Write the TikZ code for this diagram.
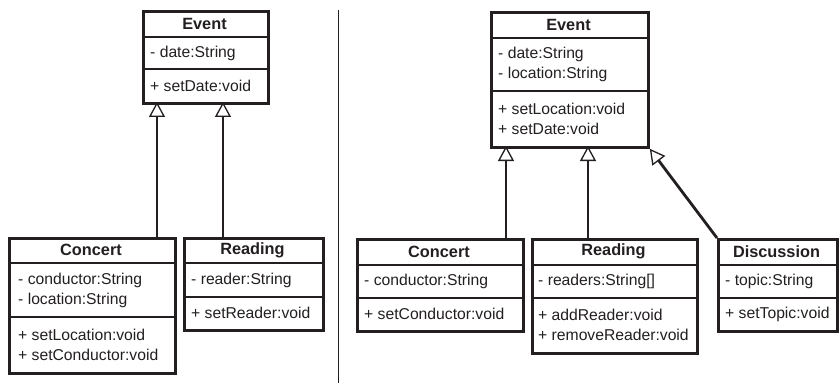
\documentclass[tikz,border=0pt]{standalone}
\usepackage{fontspec}
\setmainfont{Liberation Sans}
\usetikzlibrary{arrows.meta}
\definecolor{ink}{RGB}{35,31,32}
\begin{document}
\begin{tikzpicture}[x=1pt,y=-1pt,
  cls/.style={draw=ink, line width=2.8pt, inner sep=0pt, anchor=north west},
  sepline/.style={draw=ink, line width=2.8pt},
  ttl/.style={inner sep=0pt, text=ink, font=\fontsize{16.3}{19}\selectfont\bfseries},
  mem/.style={inner sep=0pt, anchor=west, align=left, text=ink, font=\fontsize{15.7}{20}\selectfont},
  inh/.style={draw=ink, line width=2.8pt, -{Triangle[open, length=15pt, width=16pt, line width=1.3pt, fill=white]}},
  divider/.style={draw=ink, line width=1pt}
]
\useasboundingbox (0,0) rectangle (840,385);

% ---------------- left diagram ----------------
% Event
\node[cls, minimum width=125pt, minimum height=92pt] (eL) at (142,10) {};
\draw[sepline] (142,37) -- (267,37);
\draw[sepline] (142,69) -- (267,69);
\node[ttl] (eLt) at (204.5,23.5) {Event};
\node[mem] (eLa) at (150,53) {- date:String};
\node[mem] (eLm) at (150,85.5) {+ setDate:void};

% Concert
\node[cls, minimum width=166pt, minimum height=135pt] (cL) at (8,237) {};
\draw[sepline] (8,263) -- (174,263);
\draw[sepline] (8,317) -- (174,317);
\node[ttl] (cLt) at (91,250) {Concert};
\node[mem] (cLa) at (18,290) {- conductor:String\\- location:String};
\node[mem] (cLm) at (18,344.5) {+ setLocation:void\\+ setConductor:void};

% Reading
\node[cls, minimum width=139pt, minimum height=92pt] (rL) at (183,237) {};
\draw[sepline] (183,263) -- (322,263);
\draw[sepline] (183,297) -- (322,297);
\node[ttl] (rLt) at (252.5,250) {Reading};
\node[mem] (rLa) at (191,280) {- reader:String};
\node[mem] (rLm) at (191,313) {+ setReader:void};

\coordinate (cLtop) at (157,237);
\coordinate (eLb1) at (157,102);
\coordinate (rLtop) at (223,237);
\coordinate (eLb2) at (223,102);
\draw[inh] (cLtop) -- (eLb1);
\draw[inh] (rLtop) -- (eLb2);

% divider
\coordinate (dvT) at (338,10);
\coordinate (dvB) at (338,383);
\draw[divider] (dvT) -- (dvB);

% ---------------- right diagram ----------------
% Event
\node[cls, minimum width=157pt, minimum height=135pt] (eR) at (490,11) {};
\draw[sepline] (490,38) -- (647,38);
\draw[sepline] (490,91) -- (647,91);
\node[ttl] (eRt) at (568.5,24.5) {Event};
\node[mem] (eRa) at (498,64.5) {- date:String\\- location:String};
\node[mem] (eRm) at (498,118.5) {+ setLocation:void\\+ setDate:void};

% Concert
\node[cls, minimum width=166pt, minimum height=92pt] (cR) at (356,238) {};
\draw[sepline] (356,265) -- (522,265);
\draw[sepline] (356,298) -- (522,298);
\node[ttl] (cRt) at (439,251.5) {Concert};
\node[mem] (cRa) at (364,281.5) {- conductor:String};
\node[mem] (cRm) at (364,314) {+ setConductor:void};

% Reading
\node[cls, minimum width=165pt, minimum height=114pt] (rR) at (531,238) {};
\draw[sepline] (531,265) -- (696,265);
\draw[sepline] (531,298) -- (696,298);
\node[ttl] (rRt) at (613.5,251.5) {Reading};
\node[mem] (rRa) at (538,281.5) {- readers:String[]};
\node[mem] (rRm) at (538,325) {+ addReader:void\\+ removeReader:void};

% Discussion
\node[cls, minimum width=119pt, minimum height=92pt] (dR) at (717,238) {};
\draw[sepline] (717,265) -- (836,265);
\draw[sepline] (717,298) -- (836,298);
\node[ttl] (dRt) at (776.5,251.5) {Discussion};
\node[mem] (dRa) at (725,281.5) {- topic:String};
\node[mem] (dRm) at (725,314) {+ setTopic:void};

\coordinate (cRtop) at (506,238);
\coordinate (eRb1) at (506,146);
\coordinate (rRtop) at (588,238);
\coordinate (eRb2) at (588,146);
\draw[inh] (cRtop) -- (eRb1);
\draw[inh] (rRtop) -- (eRb2);
\draw[inh] (dR.north west) -- (eR.south east);
\end{tikzpicture}
\end{document}
